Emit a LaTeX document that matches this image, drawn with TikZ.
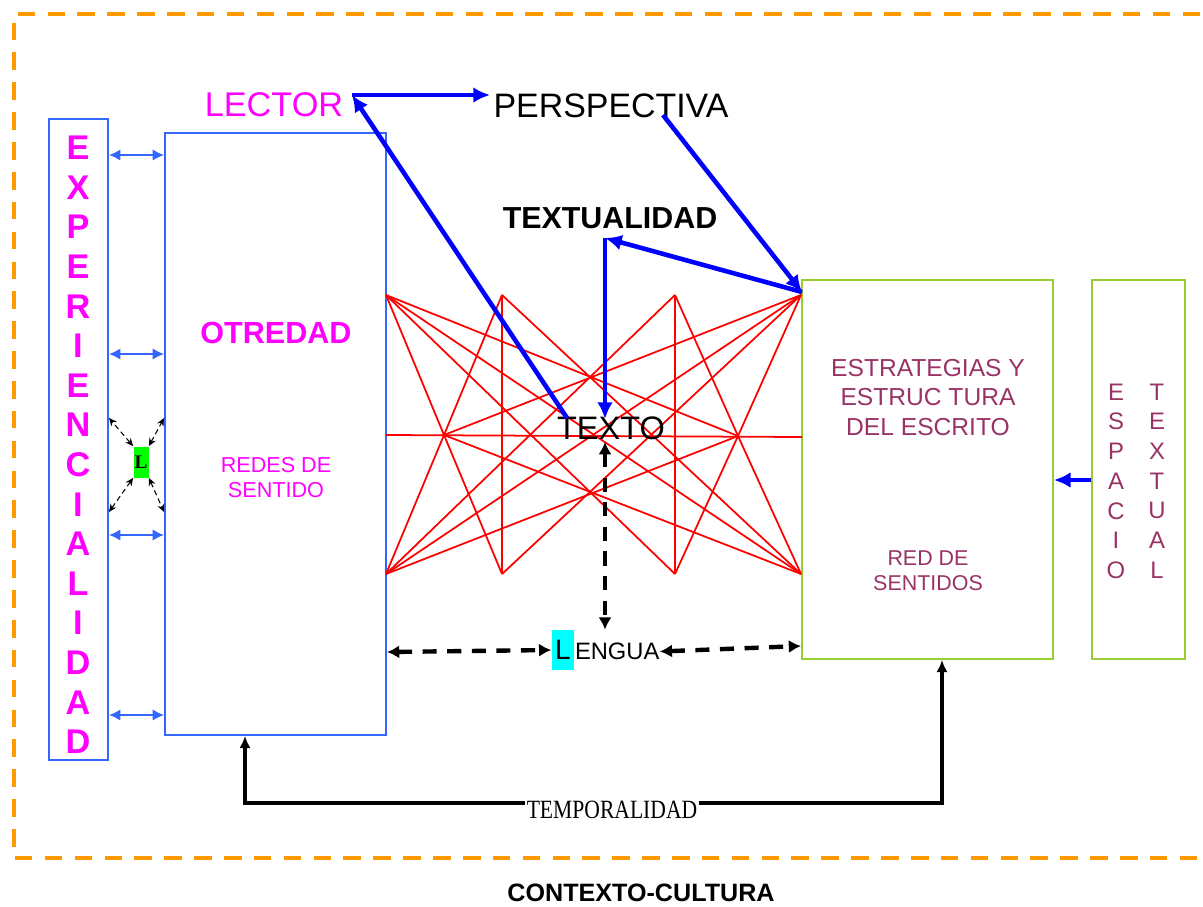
\documentclass[tikz,border=0pt]{standalone}
\usepackage{fontspec}
\setmainfont{Liberation Sans}
\newfontfamily\timesfont{Liberation Serif}
\usetikzlibrary{arrows.meta,positioning}
\definecolor{boxblue}{HTML}{3366FF}
\definecolor{boxgreen}{HTML}{99CC33}
\definecolor{maroon}{HTML}{993366}
\definecolor{orng}{HTML}{FF9900}
\definecolor{mag}{RGB}{255,0,255}
\definecolor{lcyan}{RGB}{0,255,255}
\definecolor{lgreen}{RGB}{0,255,0}

\begin{document}
\begin{tikzpicture}[x=0.02cm,y=-0.02cm,
    bluebox/.style={draw=boxblue,line width=1.1pt,inner sep=0pt},
    greenbox/.style={draw=boxgreen,line width=1.1pt,inner sep=0pt},
    vletter/.style={text=mag,font=\bfseries\fontsize{19.5}{22}\selectfont,inner sep=0pt},
    hletter/.style={text=maroon,font=\fontsize{13.6}{16}\selectfont,inner sep=0pt},
    link/.style={boxblue,line width=1.1pt,{Latex[length=6.5pt,width=6.5pt]}-{Latex[length=6.5pt,width=6.5pt]}},
    minilink/.style={line width=0.6pt,densely dashed,{Stealth[length=4.5pt,width=4pt]}-{Stealth[length=4.5pt,width=4pt]}},
    bluearrow/.style={blue,line width=2.6pt,-{Latex[length=9.5pt,width=9pt]}},
    dasharrow/.style={line width=2.5pt,dash pattern=on 8pt off 6pt,{Latex[length=7pt,width=7.5pt]}-{Latex[length=7pt,width=7.5pt]}},
    tempo/.style={line width=2.3pt,{Latex[length=7pt,width=6.5pt]}-{Latex[length=7pt,width=6.5pt]}},
    net/.style={red,line width=1pt}]

    \useasboundingbox (0,0) rectangle (1203,906);

    % contexto
    \draw[orng,line width=2.8pt,dash pattern=on 10pt off 7pt] (1230,14) -| (14,858) -- (1230,858);
    \node[font=\bfseries\fontsize{14.3}{17}\selectfont] (contexto) at (641,893) {CONTEXTO-CULTURA};

    % boxes
    \node[bluebox,minimum width=1.18cm,minimum height=12.82cm] (exper) at (78.5,439.5) {};
    \node[bluebox,minimum width=4.42cm,minimum height=12.04cm] (otredad) at (275.5,434) {};
    \node[greenbox,minimum width=5.02cm,minimum height=7.58cm] (estrat) at (927.5,469.5) {};
    \node[greenbox,minimum width=1.86cm,minimum height=7.58cm] (espacio) at (1138.5,469.5) {};

    \foreach \ch [count=\i from 0] in {E,X,P,E,R,I,E,N,C,I,A,L,I,D,A,D}
        \node[vletter] (exp\i) at (78,148+39.6*\i) {\ch};
    \foreach \ch [count=\i from 0] in {E,S,P,A,C,I,O}
        \node[hletter] (esp\i) at (1116,392+29.7*\i) {\ch};
    \foreach \ch [count=\i from 0] in {T,E,X,T,U,A,L}
        \node[hletter] (tex\i) at (1157,392+29.7*\i) {\ch};

    \node[text=mag,font=\bfseries\fontsize{17.4}{20}\selectfont] (otr) at (276,333) {OTREDAD};
    \node[text=mag,font=\fontsize{12.3}{14.2}\selectfont,align=center] (redes) at (276,478) {REDES DE\\SENTIDO};
    \node[text=maroon,font=\fontsize{14}{16.8}\selectfont,align=center] (estrtxt) at (928,397.5) {ESTRATEGIAS Y\\ESTRUC TURA\\DEL ESCRITO};
    \node[text=maroon,font=\fontsize{12.2}{14.2}\selectfont,align=center] (redsent) at (928,571) {RED DE\\SENTIDOS};

    \foreach \y in {155,354,535,715}
        \draw[link] (exper.east |- 0,\y) -- (otredad.west |- 0,\y);

    \node[fill=lgreen,inner xsep=0.6pt,minimum height=0.62cm,font=\timesfont\bfseries\fontsize{11}{13}\selectfont] (lsm) at (141,462) {L};
    \draw[minilink] (lsm.north west) -- (exper.east |- 0,418);
    \draw[minilink] (lsm.north east) -- (otredad.west |- 0,418);
    \draw[minilink] (lsm.south west) -- (exper.east |- 0,512);
    \draw[minilink] (lsm.south east) -- (otredad.west |- 0,512);

    % red network
    \coordinate (nA) at (386,295);
    \coordinate (nB) at (386,574);
    \coordinate (nC) at (502,295);
    \coordinate (nD) at (502,574);
    \coordinate (nE) at (675,295);
    \coordinate (nF) at (675,574);
    \coordinate (nG) at (801,295);
    \coordinate (nH) at (801,574);
    \coordinate (nM) at (444,435);
    \coordinate (nN) at (738,436);
    \coordinate (nL) at (386,435);
    \coordinate (nR) at (802,437);
    \foreach \a/\b in {nA/nM,nB/nM,nC/nM,nD/nM,nE/nN,nF/nN,nG/nN,nH/nN,
                       nC/nD,nE/nF,nA/nN,nB/nN,nG/nM,nH/nM,nA/nH,nB/nG,
                       nC/nH,nD/nG,nE/nB,nF/nA,nL/nR}
        \draw[net] (\a) -- (\b);

    % labels
    \node[text=mag,font=\fontsize{19.5}{22}\selectfont] (lector) at (274,105) {LECTOR};
    \node[font=\fontsize{19.3}{22}\selectfont] (persp) at (611,106) {PERSPECTIVA};
    \node[font=\bfseries\fontsize{17.3}{20}\selectfont] (textual) at (610,218) {TEXTUALIDAD};
    \node[font=\fontsize{18.5}{21}\selectfont] (texto) at (611,428) {TEXTO};
    \node[fill=lcyan,inner xsep=2pt,inner ysep=0pt,minimum height=0.8cm,font=\fontsize{16}{18}\selectfont] (lenL) at (563,650) {L};
    \node[anchor=base west,inner xsep=0pt,font=\fontsize{13.5}{16}\selectfont] (lenR) at (lenL.base east) {ENGUA};

    % blue arrows
    \coordinate (lec-in) at (352,95);
    \coordinate (per-in) at (490,95);
    \coordinate (per-out) at (663,115);
    \coordinate (est-in) at (802,292);
    \coordinate (txt-out) at (567,418);
    \coordinate (tex-in) at (605,238);
    \coordinate (txo-in) at (605,419);
    \draw[bluearrow] (txt-out) -- (lec-in);
    \draw[bluearrow] (lec-in) -- (per-in);
    \draw[bluearrow] (per-out) -- (est-in);
    \draw[bluearrow] (est-in) -- (tex-in);
    \draw[bluearrow] (tex-in) -- (txo-in);
    \draw[bluearrow] (espacio.west |- 0,480) -- (estrat.east |- 0,480);

    % lengua
    \coordinate (txo-down) at (605,442);
    \draw[dasharrow] (txo-down) -- (lenL.north -| txo-down);
    \draw[dasharrow] (otredad.east |- 0,652) -- (lenL.west);
    \draw[dasharrow] (lenR.east) -- (estrat.west |- 0,646);

    % temporalidad
    \draw[tempo] (otredad.south -| 245,0) |- (942,803) -- (estrat.south -| 942,0);
    \node[fill=white,inner sep=1pt,font=\timesfont\fontsize{15}{17}\selectfont] (tempolbl) at (612,810) {\scalebox{0.82}[1]{TEMPORALIDAD}};
\end{tikzpicture}
\end{document}
